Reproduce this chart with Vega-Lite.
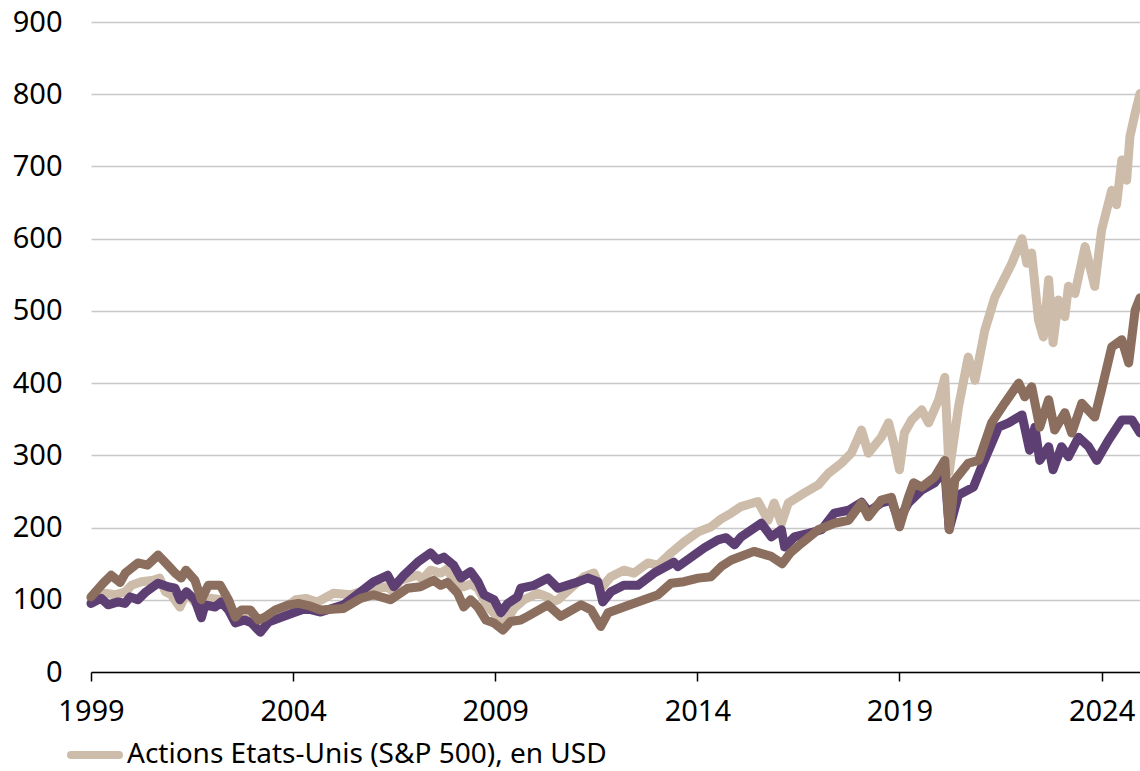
{
  "$schema": "https://vega.github.io/schema/vega-lite/v6.json",
  "width": 1049,
  "height": 650,
  "autosize": {"type": "none"},
  "padding": {"left": 91, "top": 22, "right": 0, "bottom": 99},
  "background": "white",
  "config": {"view": {"stroke": null}, "font": "Noto Sans"},
  "datasets": {
    "sp": [
      {"t":1999.0,"v":102},{"t":1999.34,"v":109},{"t":1999.6,"v":107},{"t":1999.85,"v":111},{"t":2000.0,"v":120},{"t":2000.25,"v":125},{"t":2000.54,"v":127},{"t":2000.7,"v":130},{"t":2000.84,"v":111},{"t":2000.98,"v":107},{"t":2001.2,"v":90},{"t":2001.36,"v":109},{"t":2001.6,"v":95},{"t":2001.72,"v":86},{"t":2001.98,"v":102},{"t":2002.22,"v":100},{"t":2002.55,"v":75},{"t":2002.72,"v":72},{"t":2002.97,"v":74},{"t":2003.19,"v":63},{"t":2003.39,"v":76},{"t":2003.72,"v":86},{"t":2004.06,"v":100},{"t":2004.31,"v":102},{"t":2004.6,"v":97},{"t":2005.0,"v":109},{"t":2005.42,"v":107},{"t":2005.84,"v":114},{"t":2006.34,"v":118},{"t":2006.45,"v":112},{"t":2006.66,"v":127},{"t":2007.08,"v":134},{"t":2007.2,"v":128},{"t":2007.4,"v":141},{"t":2007.65,"v":137},{"t":2007.8,"v":142},{"t":2007.9,"v":134},{"t":2008.22,"v":118},{"t":2008.4,"v":122},{"t":2008.57,"v":116},{"t":2008.82,"v":90},{"t":2009.06,"v":76},{"t":2009.21,"v":63},{"t":2009.46,"v":88},{"t":2009.71,"v":100},{"t":2010.05,"v":109},{"t":2010.3,"v":104},{"t":2010.45,"v":98},{"t":2010.55,"v":100},{"t":2010.87,"v":116},{"t":2011.2,"v":132},{"t":2011.44,"v":137},{"t":2011.61,"v":115},{"t":2011.86,"v":132},{"t":2012.18,"v":141},{"t":2012.43,"v":137},{"t":2012.78,"v":151},{"t":2013.03,"v":148},{"t":2013.35,"v":165},{"t":2013.67,"v":180},{"t":2014.02,"v":194},{"t":2014.34,"v":201},{"t":2014.59,"v":212},{"t":2014.84,"v":220},{"t":2015.08,"v":229},{"t":2015.5,"v":236},{"t":2015.75,"v":210},{"t":2015.9,"v":234},{"t":2016.08,"v":206},{"t":2016.25,"v":234},{"t":2016.65,"v":248},{"t":2016.99,"v":259},{"t":2017.24,"v":275},{"t":2017.56,"v":289},{"t":2017.81,"v":303},{"t":2018.06,"v":335},{"t":2018.23,"v":303},{"t":2018.55,"v":325},{"t":2018.73,"v":345},{"t":2018.88,"v":312},{"t":2019.0,"v":280},{"t":2019.12,"v":331},{"t":2019.3,"v":349},{"t":2019.55,"v":363},{"t":2019.72,"v":345},{"t":2019.97,"v":377},{"t":2020.12,"v":408},{"t":2020.23,"v":277},{"t":2020.46,"v":367},{"t":2020.7,"v":436},{"t":2020.87,"v":404},{"t":2021.11,"v":473},{"t":2021.36,"v":519},{"t":2021.53,"v":538},{"t":2021.78,"v":566},{"t":2022.03,"v":600},{"t":2022.15,"v":566},{"t":2022.27,"v":580},{"t":2022.44,"v":487},{"t":2022.56,"v":464},{"t":2022.69,"v":543},{"t":2022.8,"v":456},{"t":2022.93,"v":515},{"t":2023.09,"v":492},{"t":2023.18,"v":534},{"t":2023.34,"v":524},{"t":2023.59,"v":589},{"t":2023.83,"v":534},{"t":2024.0,"v":612},{"t":2024.25,"v":667},{"t":2024.37,"v":647},{"t":2024.5,"v":709},{"t":2024.62,"v":681},{"t":2024.7,"v":741},{"t":2024.83,"v":774},{"t":2024.95,"v":801}
    ],
    "pu": [
      {"t":1999.0,"v":95},{"t":1999.25,"v":102},{"t":1999.42,"v":93},{"t":1999.67,"v":97},{"t":1999.84,"v":95},{"t":1999.97,"v":104},{"t":2000.16,"v":100},{"t":2000.36,"v":111},{"t":2000.66,"v":123},{"t":2000.9,"v":118},{"t":2001.08,"v":116},{"t":2001.2,"v":100},{"t":2001.36,"v":111},{"t":2001.57,"v":100},{"t":2001.73,"v":75},{"t":2001.82,"v":93},{"t":2002.07,"v":90},{"t":2002.22,"v":97},{"t":2002.4,"v":86},{"t":2002.57,"v":68},{"t":2002.8,"v":72},{"t":2002.97,"v":68},{"t":2003.19,"v":55},{"t":2003.39,"v":69},{"t":2003.72,"v":76},{"t":2004.06,"v":83},{"t":2004.31,"v":88},{"t":2004.68,"v":83},{"t":2005.25,"v":93},{"t":2005.67,"v":111},{"t":2005.99,"v":125},{"t":2006.34,"v":134},{"t":2006.49,"v":118},{"t":2006.74,"v":134},{"t":2007.08,"v":152},{"t":2007.4,"v":165},{"t":2007.57,"v":155},{"t":2007.73,"v":159},{"t":2007.97,"v":148},{"t":2008.15,"v":130},{"t":2008.39,"v":139},{"t":2008.57,"v":125},{"t":2008.72,"v":107},{"t":2008.97,"v":100},{"t":2009.14,"v":82},{"t":2009.31,"v":95},{"t":2009.55,"v":104},{"t":2009.63,"v":116},{"t":2009.96,"v":120},{"t":2010.3,"v":130},{"t":2010.55,"v":116},{"t":2010.95,"v":123},{"t":2011.29,"v":130},{"t":2011.54,"v":125},{"t":2011.66,"v":97},{"t":2011.86,"v":111},{"t":2012.18,"v":120},{"t":2012.53,"v":120},{"t":2012.93,"v":137},{"t":2013.42,"v":152},{"t":2013.52,"v":146},{"t":2013.85,"v":159},{"t":2014.17,"v":172},{"t":2014.51,"v":183},{"t":2014.71,"v":186},{"t":2014.92,"v":176},{"t":2015.08,"v":187},{"t":2015.58,"v":206},{"t":2015.83,"v":187},{"t":2016.08,"v":197},{"t":2016.16,"v":173},{"t":2016.4,"v":187},{"t":2016.75,"v":192},{"t":2017.07,"v":197},{"t":2017.39,"v":220},{"t":2017.74,"v":224},{"t":2018.06,"v":235},{"t":2018.23,"v":222},{"t":2018.55,"v":234},{"t":2018.8,"v":238},{"t":2018.98,"v":210},{"t":2019.22,"v":234},{"t":2019.55,"v":252},{"t":2019.87,"v":262},{"t":2020.12,"v":280},{"t":2020.23,"v":198},{"t":2020.46,"v":245},{"t":2020.83,"v":256},{"t":2021.03,"v":284},{"t":2021.45,"v":339},{"t":2021.7,"v":345},{"t":2022.03,"v":356},{"t":2022.22,"v":307},{"t":2022.35,"v":339},{"t":2022.47,"v":293},{"t":2022.69,"v":312},{"t":2022.8,"v":280},{"t":2023.01,"v":312},{"t":2023.18,"v":298},{"t":2023.43,"v":325},{"t":2023.68,"v":312},{"t":2023.88,"v":293},{"t":2024.17,"v":321},{"t":2024.5,"v":349},{"t":2024.75,"v":349},{"t":2024.95,"v":331}
    ],
    "br": [
      {"t":1999.0,"v":104},{"t":1999.3,"v":123},{"t":1999.5,"v":134},{"t":1999.72,"v":124},{"t":1999.85,"v":137},{"t":2000.16,"v":151},{"t":2000.4,"v":148},{"t":2000.66,"v":162},{"t":2000.9,"v":148},{"t":2001.08,"v":137},{"t":2001.23,"v":130},{"t":2001.35,"v":141},{"t":2001.57,"v":127},{"t":2001.73,"v":100},{"t":2001.9,"v":120},{"t":2002.2,"v":120},{"t":2002.4,"v":100},{"t":2002.57,"v":76},{"t":2002.72,"v":86},{"t":2002.94,"v":86},{"t":2003.14,"v":72},{"t":2003.3,"v":76},{"t":2003.56,"v":86},{"t":2003.88,"v":93},{"t":2004.13,"v":95},{"t":2004.38,"v":92},{"t":2004.68,"v":86},{"t":2005.25,"v":88},{"t":2005.67,"v":102},{"t":2005.99,"v":107},{"t":2006.41,"v":100},{"t":2006.83,"v":116},{"t":2007.15,"v":118},{"t":2007.48,"v":127},{"t":2007.65,"v":120},{"t":2007.82,"v":124},{"t":2008.07,"v":109},{"t":2008.22,"v":90},{"t":2008.39,"v":100},{"t":2008.57,"v":90},{"t":2008.77,"v":72},{"t":2008.97,"v":68},{"t":2009.19,"v":58},{"t":2009.38,"v":70},{"t":2009.63,"v":72},{"t":2009.8,"v":77},{"t":2010.3,"v":93},{"t":2010.62,"v":77},{"t":2011.12,"v":93},{"t":2011.37,"v":86},{"t":2011.61,"v":63},{"t":2011.79,"v":82},{"t":2012.18,"v":90},{"t":2012.68,"v":100},{"t":2013.03,"v":107},{"t":2013.35,"v":123},{"t":2013.67,"v":125},{"t":2014.02,"v":130},{"t":2014.34,"v":132},{"t":2014.59,"v":146},{"t":2014.84,"v":155},{"t":2015.4,"v":167},{"t":2015.83,"v":160},{"t":2016.1,"v":150},{"t":2016.3,"v":165},{"t":2016.57,"v":178},{"t":2016.99,"v":197},{"t":2017.39,"v":206},{"t":2017.74,"v":210},{"t":2018.06,"v":234},{"t":2018.23,"v":215},{"t":2018.55,"v":238},{"t":2018.8,"v":242},{"t":2019.0,"v":201},{"t":2019.22,"v":242},{"t":2019.35,"v":262},{"t":2019.55,"v":256},{"t":2019.87,"v":270},{"t":2020.12,"v":293},{"t":2020.23,"v":197},{"t":2020.37,"v":266},{"t":2020.7,"v":289},{"t":2020.96,"v":293},{"t":2021.28,"v":345},{"t":2021.6,"v":372},{"t":2021.95,"v":400},{"t":2022.1,"v":381},{"t":2022.27,"v":395},{"t":2022.47,"v":339},{"t":2022.69,"v":377},{"t":2022.84,"v":335},{"t":2023.09,"v":359},{"t":2023.26,"v":331},{"t":2023.51,"v":372},{"t":2023.83,"v":353},{"t":2024.0,"v":391},{"t":2024.25,"v":450},{"t":2024.5,"v":460},{"t":2024.67,"v":428},{"t":2024.83,"v":501},{"t":2024.95,"v":518}
    ]
  },
  "encoding": {
    "x": {"field": "t", "type": "quantitative",
      "scale": {"domain": [1999, 2024.95], "nice": false, "zero": false},
      "axis": {"values": [1999, 2004, 2009, 2014, 2019, 2024], "format": "d", "title": null, "grid": false,
        "domainColor": "#000000", "domainWidth": 1.5, "tickColor": "#000000", "tickWidth": 1.5, "tickSize": 9,
        "labelFontSize": 29, "labelColor": "#000000", "labelPadding": 16, "labelFlush": false}},
    "y": {"field": "v", "type": "quantitative",
      "scale": {"domain": [0, 900], "nice": false},
      "axis": {"values": [0, 100, 200, 300, 400, 500, 600, 700, 800, 900], "title": null, "domain": false, "ticks": false,
        "grid": true, "gridColor": "#c8c8c8", "gridWidth": 1.5,
        "labelFontSize": 29, "labelColor": "#000000", "labelPadding": 29}}
  },
  "layer": [
    {"data": {"name": "sp"},
     "mark": {"type": "line", "strokeWidth": 9, "strokeCap": "round", "strokeJoin": "round"},
     "encoding": {"color": {"datum": "Actions Etats-Unis (S&P 500), en USD",
        "scale": {"domain": ["Actions Etats-Unis (S&P 500), en USD", "Actions mondiales, en USD", "Actions hors Etats-Unis, en USD"],
                  "range": ["#cdbca9", "#8b6e5d", "#5e3f74"]},
        "legend": {"orient": "none", "legendX": -24, "legendY": 705, "title": null, "padding": 0,
          "values": ["Actions Etats-Unis (S&P 500), en USD"],
          "symbolType": "stroke", "symbolSize": 2304, "symbolStrokeWidth": 8,
          "labelFontSize": 28, "labelColor": "#000000", "labelOffset": 4, "labelLimit": 0,
          "encode": {"symbols": {"update": {"strokeCap": {"value": "round"}}}}}}}},
    {"data": {"name": "pu"},
     "mark": {"type": "line", "strokeWidth": 9, "strokeCap": "round", "strokeJoin": "round"},
     "encoding": {"color": {"datum": "Actions hors Etats-Unis, en USD"}}},
    {"data": {"name": "br"},
     "mark": {"type": "line", "strokeWidth": 9, "strokeCap": "round", "strokeJoin": "round"},
     "encoding": {"color": {"datum": "Actions mondiales, en USD"}}}
  ]
}
